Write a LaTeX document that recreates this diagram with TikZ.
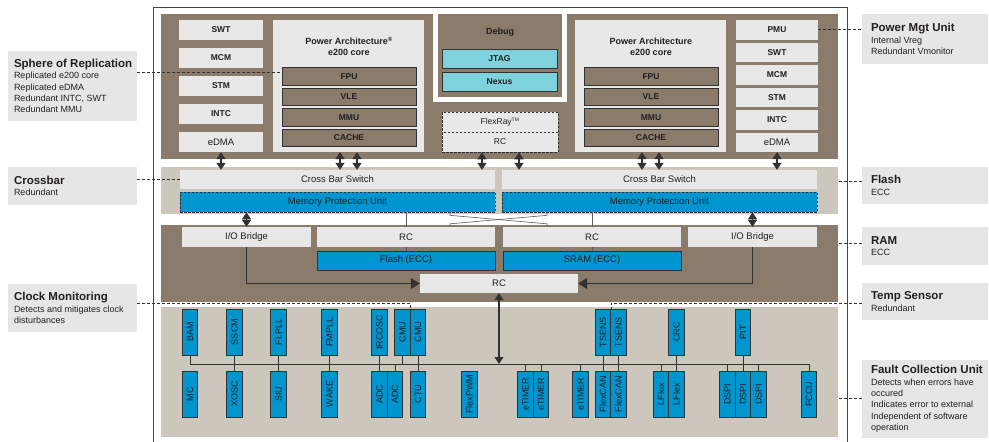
\documentclass[tikz,border=0pt]{standalone}
\usepackage{fontspec}
\setmainfont{Liberation Sans}
\usetikzlibrary{arrows.meta}

\definecolor{bandbrown}{RGB}{139,123,107}
\definecolor{bandtaupe}{RGB}{205,198,189}
\definecolor{boxgray}{RGB}{232,232,232}
\definecolor{callgray}{RGB}{230,230,230}
\definecolor{chipblue}{RGB}{0,149,206}
\definecolor{dbgcyan}{RGB}{126,210,222}
\definecolor{edgedark}{RGB}{50,50,50}
\definecolor{inkdark}{RGB}{35,31,32}

\newcommand{\calltitle}[1]{{\fontsize{11.5}{13}\selectfont\bfseries #1}}

\begin{document}
\begin{tikzpicture}[x=1pt, y=-1pt,
  >={Triangle[width=9pt,length=7pt]},
  every node/.style={inner sep=0pt, text=inkdark},
  band/.style={fill=#1, minimum width=677pt},
  lbox/.style={fill=boxgray, font=\fontsize{9.5}{11}\selectfont},
  colbox/.style={lbox, minimum height=20pt, font=\fontsize{8.5}{10}\selectfont\bfseries},
  corebox/.style={fill=boxgray, minimum width=151pt, minimum height=132pt},
  coreunit/.style={fill=bandbrown, draw=edgedark, line width=0.7pt, minimum width=134pt, minimum height=17.5pt, font=\fontsize{8.5}{10}\selectfont\bfseries},
  cyanbox/.style={fill=dbgcyan, draw=edgedark, line width=0.7pt, minimum width=115pt, minimum height=19pt, font=\fontsize{8.5}{10}\selectfont\bfseries},
  flexbox/.style={fill=boxgray, draw=edgedark, dash pattern=on 2.5pt off 1.5pt, line width=0.7pt, minimum width=116pt, minimum height=20pt, font=\fontsize{8.5}{10}\selectfont},
  bluebox/.style={fill=chipblue, draw=edgedark, line width=0.7pt, font=\fontsize{9.5}{11}\selectfont},
  vbox/.style={bluebox, minimum width=15.5pt, minimum height=46pt, font=\fontsize{9}{10}\selectfont},
  blocktitle/.style={font=\fontsize{9}{11}\selectfont\bfseries, align=center},
  dbl/.style={<->, draw=edgedark, line width=1.2pt},
  conn/.style={-{Triangle[width=11pt,length=9pt]}, draw=edgedark, line width=1.2pt},
  wire/.style={draw=edgedark!80, line width=0.6pt},
  stub/.style={draw=edgedark, line width=0.9pt},
  callbox/.style={fill=callgray, minimum width=#1},
  calltext/.style={anchor=west, align=left, font=\fontsize{9}{11.3}\selectfont},
  callline/.style={draw=edgedark, line width=0.7pt, dash pattern=on 3pt off 2pt}
]
\useasboundingbox (0,0) rectangle (989,442);
\draw[edgedark!90, line width=0.8pt] (153,442) |- (847,7) -- (847,442);

\node[band=bandbrown, minimum height=145pt] (topBand) at (499.5,86.5) {};
\node[band=bandtaupe, minimum height=47pt] (xbarBand) at (499.5,190.5) {};
\node[band=bandbrown, minimum height=77pt] (ramBand) at (499.5,263.5) {};
\node[band=bandtaupe, minimum height=130pt] (botBand) at (499.5,372) {};

\foreach \nm/\y/\txt in {swtL/30/SWT, mcmL/58/MCM, stmL/86/STM, intcL/114/INTC}
  \node[colbox, minimum width=84pt] (\nm) at (221,\y) {\txt};
\node[lbox, minimum width=84pt, minimum height=20pt] (edmaL) at (221,142) {eDMA};

\node[corebox] (coreL) at (348.5,86) {};
\node[blocktitle] (coreLt) at (349,46.5) {Power Architecture\textsuperscript{®}\\e200 core};
\foreach \nm/\y/\txt in {fpuL/76.5/FPU, vleL/97/VLE, mmuL/117.5/MMU, cacheL/138/CACHE}
  \node[coreunit] (\nm) at (349,\y) {\txt};

\node[draw=white, line width=5pt, fill=bandbrown, minimum width=128.4pt, minimum height=87.7pt] (dbg) at (500,55.35) {};
\node[blocktitle] (dbgT) at (500,32) {Debug};
\node[cyanbox] (jtag) at (499.5,58.5) {JTAG};
\node[cyanbox] (nexus) at (499.5,81.5) {Nexus};
\node[flexbox] (flexray) at (500,122) {FlexRay\textsuperscript{\fontsize{5}{5}\selectfont TM}};
\node[flexbox] (flexrc) at (500,142) {RC};

\node[corebox] (coreR) at (650.5,86) {};
\node[blocktitle] (coreRt) at (651,46.5) {Power Architecture\\e200 core};
\foreach \nm/\y/\txt in {fpuR/76.5/FPU, vleR/97/VLE, mmuR/117.5/MMU, cacheR/138/CACHE}
  \node[coreunit] (\nm) at (651,\y) {\txt};

\foreach \nm/\y/\txt in {pmu/29.75/PMU, swtR/52.25/SWT, mcmR/74.75/MCM, stmR/97.25/STM, intcR/119.75/INTC}
  \node[colbox, minimum width=82pt, minimum height=19.5pt] (\nm) at (777,\y) {\txt};
\node[lbox, minimum width=82pt, minimum height=19.5pt] (edmaR) at (777,142.25) {eDMA};

\node[lbox, minimum width=315pt, minimum height=19pt] (xbarL) at (337.5,179.5) {Cross Bar Switch};
\node[lbox, minimum width=315pt, minimum height=19pt] (xbarR) at (659.5,179.5) {Cross Bar Switch};
\node[bluebox, dash pattern=on 2.5pt off 1.5pt, minimum width=315pt, minimum height=20pt] (mpuL) at (337.5,202) {Memory Protection Unit};
\node[bluebox, dash pattern=on 2.5pt off 1.5pt, minimum width=315pt, minimum height=20pt] (mpuR) at (659.5,202) {Memory Protection Unit};

\draw[dbl] (edmaL.south) -- (edmaL.south |- xbarL.north);
\draw[dbl] ([xshift=-8.5pt]coreL.south) -- ([xshift=-8.5pt]coreL.south |- xbarL.north);
\draw[dbl] ([xshift=8.5pt]coreL.south) -- ([xshift=8.5pt]coreL.south |- xbarL.north);
\draw[dbl] ([xshift=-18pt]flexrc.south) -- ([xshift=-18pt]flexrc.south |- xbarL.north);
\draw[dbl] ([xshift=19pt]flexrc.south) -- ([xshift=19pt]flexrc.south |- xbarR.north);
\draw[dbl] ([xshift=-8.5pt]coreR.south) -- ([xshift=-8.5pt]coreR.south |- xbarR.north);
\draw[dbl] ([xshift=8.5pt]coreR.south) -- ([xshift=8.5pt]coreR.south |- xbarR.north);
\draw[dbl] (edmaR.south) -- (edmaR.south |- xbarR.north);

\node[lbox, minimum width=129pt, minimum height=20pt] (iobL) at (246.5,237) {I/O Bridge};
\node[lbox, minimum width=178pt, minimum height=20pt] (rcL) at (406,237) {RC};
\node[bluebox, minimum width=178pt, minimum height=19pt] (flash) at (406,260.5) {Flash (ECC)};
\node[lbox, minimum width=178pt, minimum height=20pt] (rcR) at (592,237) {RC};
\node[bluebox, minimum width=178pt, minimum height=19pt] (sram) at (592,260.5) {SRAM (ECC)};
\node[lbox, minimum width=129pt, minimum height=20pt] (iobR) at (752.5,237) {I/O Bridge};
\node[lbox, minimum width=158pt, minimum height=19pt] (rcM) at (499,283.5) {RC};

\draw[wire] (mpuL.south -| rcL.north) -- (rcL.north);
\draw[wire] (rcL.south) -- (flash.north);
\draw[wire] (mpuR.south -| rcR.north) -- (rcR.north);
\draw[wire] (rcR.south) -- (sram.north);
\draw[wire] ([xshift=112.5pt]mpuL.south) -- ++(0,3) -- ([xshift=-45pt,yshift=3pt]rcR.north) -- ([xshift=-45pt]rcR.north);
\draw[wire] ([xshift=-112.5pt]mpuR.south) -- ++(0,3) -- ([xshift=44pt,yshift=3pt]rcL.north) -- ([xshift=44pt]rcL.north);
\draw[dbl] (mpuL.south -| iobL.north) -- (iobL.north);
\draw[dbl] (mpuR.south -| iobR.north) -- (iobR.north);
\draw[conn] (iobL.south) |- (rcM.west);
\draw[conn] (iobR.south) |- (rcM.east);

\coordinate (busW) at (190,364);
\coordinate (busE) at (809,364);
\draw[stub] (busW) -- (busE);
\draw[dbl] (rcM.south) -- (rcM.south |- busW);

\foreach \nm/\x/\txt in {bam/190/BAM, sscm/234.5/SSCM, flpll/278.5/FLPLL, fmpll/329.5/FMPLL, ircosc/379.5/IRCOSC, cmuA/402.5/CMU, cmuB/418/CMU, tsA/603/TSENS, tsB/618.5/TSENS, crc/676.5/CRC, pit/743/PIT}
  \node[vbox] (\nm) at (\x,332) {\rotatebox{90}{\txt}};
\foreach \nm/\x/\txt in {mc/190/MC, xosc/234.5/XOSC, siu/278.5/SIU, wake/329.5/WAKE, adcA/379.5/ADC, adcB/395/ADC, ctu/418/CTU, flexpwm/469.5/FlexPWM, etA/525.5/eTIMER, etB/541/eTIMER, etC/580.5/eTIMER, fcA/603/FlexCAN, fcB/618.5/FlexCAN, lfA/661/LFlex, lfB/676.5/LFlex, dsA/727.5/DSPI, dsB/743/DSPI, dsC/758.5/DSPI, fccu/809/FCCU}
  \node[vbox] (\nm) at (\x,394) {\rotatebox{90}{\txt}};
\foreach \nm in {bam, sscm, flpll, fmpll, ircosc, cmuA, cmuB, tsA, tsB, crc, pit}
  \draw[stub] (\nm.south) -- (\nm.south |- busW);
\foreach \nm in {xosc, siu, wake, adcA, adcB, ctu, etA, etB, etC, fcA, fcB, lfA, lfB, dsA, dsB, dsC, fccu}
  \draw[stub] (\nm.north) -- (\nm.north |- busW);

\node[callbox=129pt, minimum height=70pt] (sor) at (72.5,86) {};
\node[calltext] (sorT) at ([xshift=6pt]sor.west) {\calltitle{Sphere of Replication}\\Replicated e200 core\\Replicated eDMA\\Redundant INTC, SWT\\Redundant MMU};
\node[callbox=129pt, minimum height=38pt] (xbarC) at (72.5,186) {};
\node[calltext] (xbarT) at ([xshift=6pt]xbarC.west) {\calltitle{Crossbar}\\Redundant};
\node[callbox=129pt, minimum height=48pt] (clk) at (72.5,308) {};
\node[calltext] (clkT) at ([xshift=6pt]clk.west) {\calltitle{Clock Monitoring}\\Detects and mitigates clock\\disturbances};

\node[callbox=126pt, minimum height=50pt] (pwr) at (925,39) {};
\node[calltext] (pwrT) at ([xshift=9pt]pwr.west) {\calltitle{Power Mgt Unit}\\Internal Vreg\\Redundant Vmonitor};
\node[callbox=126pt, minimum height=37pt] (flashC) at (925,185.5) {};
\node[calltext] (flashT) at ([xshift=9pt]flashC.west) {\calltitle{Flash}\\ECC};
\node[callbox=126pt, minimum height=38pt] (ramC) at (925,246) {};
\node[calltext] (ramT) at ([xshift=9pt]ramC.west) {\calltitle{RAM}\\ECC};
\node[callbox=126pt, minimum height=37pt] (temp) at (925,301.5) {};
\node[calltext] (tempT) at ([xshift=9pt]temp.west) {\calltitle{Temp Sensor}\\Redundant};
\node[callbox=126pt, minimum height=78pt] (fcu) at (925,399) {};
\node[calltext] (fcuT) at ([xshift=9pt]fcu.west) {\calltitle{Fault Collection Unit}\\Detects when errors have\\occured\\Indicates error to external\\Independent of software\\operation};

\draw[callline] ([yshift=14pt]sor.east) -- ([yshift=14pt]sor.east -| fpuL.west);
\draw[callline] (xbarL.west -| xbarC.east) -- (xbarL.west);
\draw[callline] ([yshift=5pt]clk.east) -| (cmuA.north east);
\draw[callline] (pmu.east) -- (pmu.east -| pwr.west);
\draw[callline] ([yshift=4.5pt]flashC.west) -- ([yshift=4.5pt]flashC.west -| xbarBand.east);
\draw[callline] ([yshift=3pt]ramC.west) -- ([yshift=3pt]ramC.west -| ramBand.east);
\draw[callline] ([yshift=-1.5pt]temp.west) -| (tsA.north east);
\draw[callline] ([yshift=1pt]fcu.west) -- ([yshift=1pt]fcu.west -| botBand.east);
\end{tikzpicture}
\end{document}
